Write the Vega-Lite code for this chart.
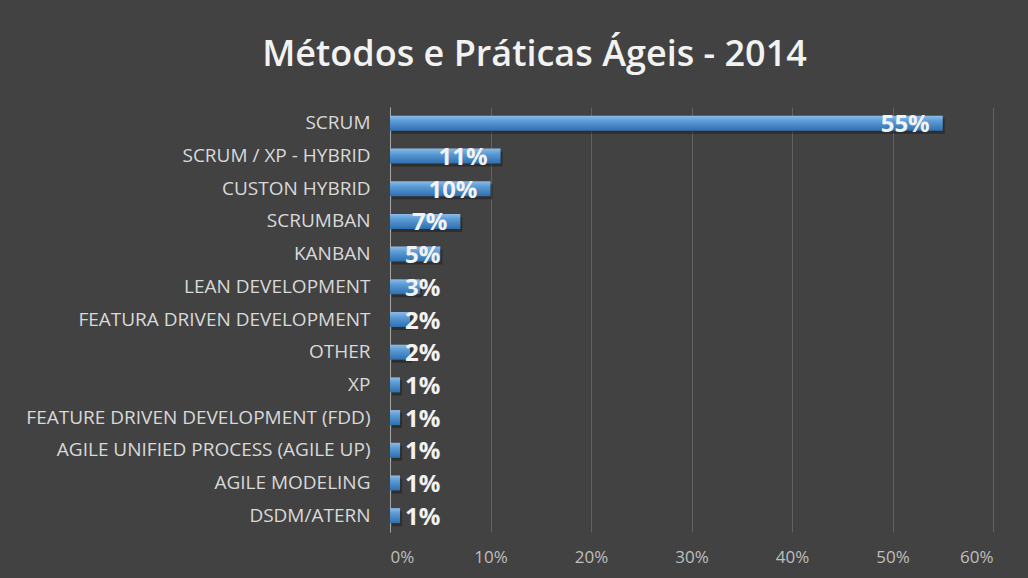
{
  "$schema": "https://vega.github.io/schema/vega-lite/v6.json",
  "width": 603,
  "height": 425,
  "autosize": {"type": "none"},
  "padding": {"left": 390, "top": 107, "right": 35, "bottom": 46},
  "background": "#424242",
  "config": {"view": {"stroke": null}, "font": "Open Sans"},
  "title": {
    "text": "Métodos e Práticas Ágeis - 2014",
    "font": "Open Sans",
    "fontSize": 36,
    "fontWeight": 600,
    "color": "#f2f2f2",
    "anchor": "middle",
    "dx": -157,
    "baseline": "alphabetic",
    "offset": 5
  },
  "data": {
    "values": [
      {"metodo": "SCRUM", "valor": 0.55},
      {"metodo": "SCRUM / XP - HYBRID", "valor": 0.11},
      {"metodo": "CUSTON HYBRID", "valor": 0.10},
      {"metodo": "SCRUMBAN", "valor": 0.07},
      {"metodo": "KANBAN", "valor": 0.05},
      {"metodo": "LEAN DEVELOPMENT", "valor": 0.03},
      {"metodo": "FEATURA DRIVEN DEVELOPMENT", "valor": 0.02},
      {"metodo": "OTHER", "valor": 0.02},
      {"metodo": "XP", "valor": 0.01},
      {"metodo": "FEATURE DRIVEN DEVELOPMENT (FDD)", "valor": 0.01},
      {"metodo": "AGILE UNIFIED PROCESS (AGILE UP)", "valor": 0.01},
      {"metodo": "AGILE MODELING", "valor": 0.01},
      {"metodo": "DSDM/ATERN", "valor": 0.01}
    ]
  },
  "encoding": {
    "y": {
      "field": "metodo",
      "type": "nominal",
      "sort": null,
      "scale": {"paddingInner": 0, "paddingOuter": 0},
      "axis": {
        "title": null,
        "ticks": false,
        "labelPadding": 20,
        "labelColor": "#d9d9d9",
        "labelFontSize": 19,
        "labelFont": "Open Sans",
        "labelLimit": 400,
        "domain": true,
        "domainColor": "#a6a6a6",
        "domainWidth": 1,
        "grid": false
      }
    }
  },
  "layer": [
    {
      "mark": {"type": "bar", "size": 15, "xOffset": 2, "yOffset": 3, "color": "#1a1a1a", "opacity": 0.5},
      "encoding": {
        "x": {
          "field": "valor",
          "type": "quantitative",
          "scale": {"domain": [0, 0.6], "nice": false},
          "axis": {
            "title": null,
            "format": ".0%",
            "values": [0, 0.1, 0.2, 0.3, 0.4, 0.5, 0.6],
            "domain": false,
            "ticks": false,
            "labelColor": "#bfbfbf",
            "labelFontSize": 17,
            "labelFont": "Open Sans",
            "labelPadding": 17,
            "grid": true,
            "gridColor": "#8a8a8a",
            "gridOpacity": 0.45,
            "gridWidth": 1
          }
        }
      }
    },
    {
      "mark": {
        "type": "bar",
        "size": 15,
        "color": {
          "gradient": "linear",
          "x1": 0, "y1": 0, "x2": 0, "y2": 1,
          "stops": [
            {"offset": 0, "color": "#8dbbe8"},
            {"offset": 0.35, "color": "#5b9bd5"},
            {"offset": 1, "color": "#2e6fb0"}
          ]
        }
      },
      "encoding": {"x": {"field": "valor", "type": "quantitative"}}
    },
    {
      "transform": [{"filter": "datum.valor >= 0.07"}],
      "mark": {"type": "text", "align": "right", "baseline": "middle", "dx": -13, "dy": 2, "font": "Open Sans", "fontSize": 24, "fontWeight": "bold", "color": "#f2f2f2"},
      "encoding": {
        "x": {"field": "valor", "type": "quantitative"},
        "text": {"field": "valor", "type": "quantitative", "format": ".0%"}
      }
    },
    {
      "transform": [{"filter": "datum.valor < 0.07"}],
      "mark": {"type": "text", "align": "left", "baseline": "middle", "dx": 15, "dy": 2, "font": "Open Sans", "fontSize": 24, "fontWeight": "bold", "color": "#f2f2f2"},
      "encoding": {
        "x": {"datum": 0, "type": "quantitative"},
        "text": {"field": "valor", "type": "quantitative", "format": ".0%"}
      }
    }
  ]
}
